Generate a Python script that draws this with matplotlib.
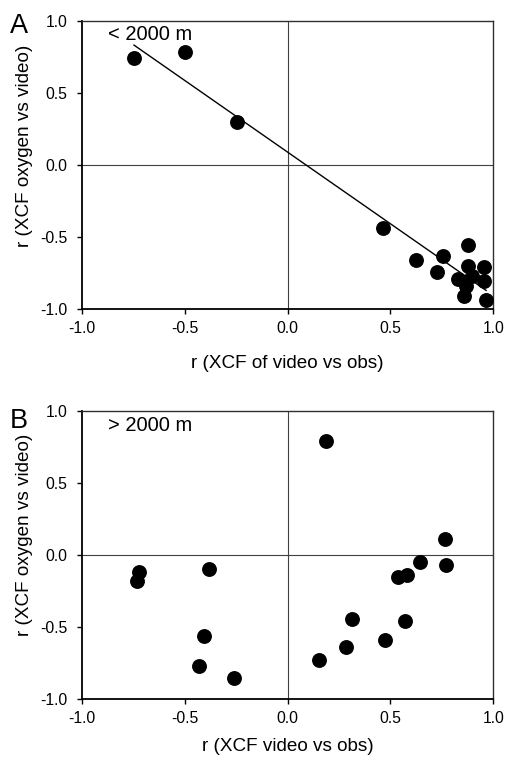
import numpy as np
import matplotlib
matplotlib.use("Agg")
import matplotlib.pyplot as plt

plt.rcParams['font.family'] = ['Liberation Sans', 'DejaVu Sans']

# Shallow sites (< 2000 m)
shallow_x = [-0.746, -0.498, -0.245, 0.464, 0.623, 0.727, 0.757, 0.878, 0.876,
             0.954, 0.954, 0.965, 0.829, 0.856, 0.865, 0.897]
shallow_y = [0.743, 0.787, 0.296, -0.440, -0.657, -0.741, -0.634, -0.553, -0.704,
             -0.711, -0.808, -0.940, -0.792, -0.912, -0.838, -0.773]

# Deep sites (> 2000 m)
deep_x = [0.188, 0.763, 0.769, 0.643, 0.580, 0.536, 0.570, 0.314, 0.474, 0.283,
          0.154, -0.721, -0.730, -0.382, -0.408, -0.428, -0.261]
deep_y = [0.791, 0.111, -0.069, -0.046, -0.139, -0.155, -0.455, -0.442, -0.587,
          -0.634, -0.726, -0.120, -0.176, -0.097, -0.560, -0.772, -0.849]

ticks = [-1.0, -0.5, 0.0, 0.5, 1.0]
tick_labels = ["-1.0", "-0.5", "0.0", "0.5", "1.0"]

fig = plt.figure(figsize=(5.06, 7.6), dpi=100)
axA = fig.add_axes([0.1615, 0.5934, 0.8134, 0.379])
axB = fig.add_axes([0.1615, 0.0799, 0.8134, 0.3793])


def style(ax, xlabel, xpad, ylabel_y):
    ax.set_xlim(-1, 1)
    ax.set_ylim(-1, 1)
    ax.axhline(0, color='#404040', lw=0.8, zorder=1)
    ax.axvline(0, color='#404040', lw=0.8, zorder=1)
    ax.set_xticks(ticks)
    ax.set_xticklabels(tick_labels)
    ax.set_yticks(ticks)
    ax.set_yticklabels(tick_labels)
    ax.tick_params(direction='out', length=3.5, width=1.0, labelsize=11.3,
                   top=False, right=False)
    ax.tick_params(axis='x', pad=5)
    ax.tick_params(axis='y', pad=7)
    for side in ['left', 'bottom']:
        ax.spines[side].set_linewidth(1.3)
        ax.spines[side].set_color('black')
    for side in ['top', 'right']:
        ax.spines[side].set_linewidth(1.0)
        ax.spines[side].set_color('#303030')
    ax.set_xlabel(xlabel, fontsize=13.6, labelpad=xpad)
    ax.set_ylabel("r (XCF oxygen vs video)", fontsize=13.6, labelpad=5)
    ax.yaxis.label.set_y(ylabel_y)


# Panel A
style(axA, "r (XCF of video vs obs)", 14, 0.565)
axA.scatter(shallow_x, shallow_y, s=115, color='black', zorder=3, linewidths=0)
slope, intercept = np.polyfit(shallow_x, shallow_y, 1)
xs = np.array([min(shallow_x), max(shallow_x)])
axA.plot(xs, slope * xs + intercept, color='black', lw=1.0, zorder=2)
axA.text(-0.87, 0.87, "< 2000 m", fontsize=14.5, ha='left', va='baseline')

# Panel B
style(axB, "r (XCF video vs obs)", 8.5, 0.572)
axB.scatter(deep_x, deep_y, s=115, color='black', zorder=3, linewidths=0)
axB.text(-0.87, 0.86, "> 2000 m", fontsize=14.5, ha='left', va='baseline')

fig.text(0.02, 0.957, "A", fontsize=19.5, ha='left', va='baseline')
fig.text(0.02, 0.437, "B", fontsize=19.5, ha='left', va='baseline')

fig.savefig("out.png", dpi=100)
